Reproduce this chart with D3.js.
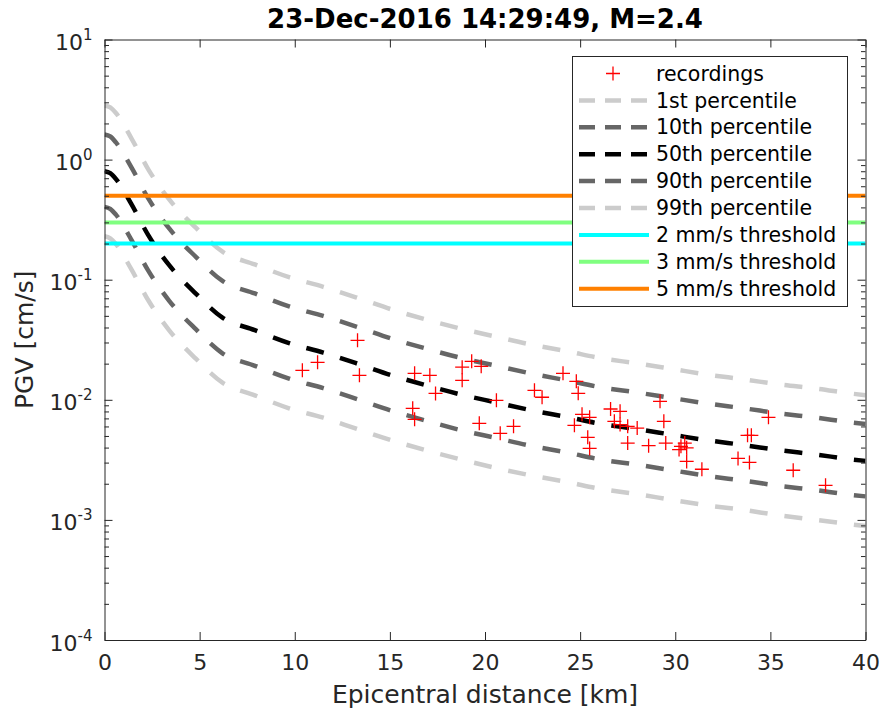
<!DOCTYPE html>
<html>
<head>
<meta charset="utf-8">
<script src="https://cdn.jsdelivr.net/npm/d3@7"></script>
<style>
	body { margin: 0; background: #fff; }
	text { font-family: "DejaVu Sans", sans-serif; }
</style>
</head>
<body>
<div class="chart-container"></div>
<script>
const w = 882;
const h = 708;
const margin = { top: 39.5, bottom: 68, left: 104.5, right: 16.5 };

const width = w - margin.left - margin.right;
const height = h - margin.top - margin.bottom;

const curveDist = [0, 0.3, 0.6, 1.4, 2.3, 3.4, 4.8, 6.2, 7.9, 9.7, 11.5, 13.3, 15.1, 16.9, 18.7, 20.6, 22.4, 24.3, 26.1, 28.0, 29.9, 31.7, 33.6, 35.5, 37.4, 39.2, 40];
const p01 = [2.82, 2.72, 2.44, 1.52, 0.83, 0.466, 0.271, 0.171, 0.134, 0.105, 0.0872, 0.0706, 0.0565, 0.0466, 0.0392, 0.0335, 0.0289, 0.0254, 0.0222, 0.0201, 0.018, 0.0162, 0.0148, 0.0134, 0.0124, 0.0113, 0.0109];
const p10 = [1.62, 1.56, 1.39, 0.87, 0.475, 0.267, 0.155, 0.0978, 0.0768, 0.06, 0.0499, 0.0404, 0.0323, 0.0267, 0.0224, 0.0192, 0.0166, 0.0145, 0.0127, 0.0115, 0.0103, 0.0093, 0.0085, 0.0077, 0.0071, 0.0065, 0.0063];
const p50 = [0.80, 0.77, 0.69, 0.43, 0.235, 0.132, 0.0767, 0.0484, 0.038, 0.0297, 0.0247, 0.020, 0.016, 0.0132, 0.0111, 0.0095, 0.0082, 0.0072, 0.0063, 0.0057, 0.0051, 0.0046, 0.0042, 0.0038, 0.0035, 0.0032, 0.0031];
const p90 = [0.404, 0.389, 0.348, 0.217, 0.119, 0.0667, 0.0387, 0.0244, 0.0192, 0.015, 0.0125, 0.0101, 0.0081, 0.0067, 0.0056, 0.0048, 0.00414, 0.00364, 0.00318, 0.00288, 0.00258, 0.00232, 0.00212, 0.00192, 0.00177, 0.00162, 0.00157];
const p99 = [0.23, 0.221, 0.198, 0.123, 0.0674, 0.0379, 0.022, 0.0139, 0.0109, 0.0085, 0.0071, 0.0057, 0.0046, 0.0038, 0.0032, 0.0027, 0.00235, 0.00207, 0.00181, 0.00164, 0.00146, 0.00132, 0.00121, 0.00109, 0.001, 0.00092, 0.00089];

// recordings: epicentral distance [km] and PGV [cm/s]
const recDist = [10.4, 11.2, 13.3, 13.4, 16.3, 17.1, 17.4, 16.2, 16.3, 18.8, 19.3, 19.8, 18.8, 20.6, 19.7, 20.8, 21.5, 22.6, 23.0, 24.1, 24.8, 24.9, 25.1, 24.7, 25.5, 25.4, 25.5, 26.6, 27.1, 26.8, 27.1, 27.5, 28.0, 27.5, 28.6, 29.2, 29.4, 29.5, 30.3, 30.5, 30.6, 30.2, 30.6, 31.4, 33.8, 34.0, 33.3, 33.9, 34.9, 36.2, 37.9];
const recPGV = [0.0176, 0.0205, 0.0313, 0.0160, 0.0166, 0.0160, 0.0113, 0.0085, 0.00688, 0.0187, 0.0209, 0.0190, 0.01454, 0.0099, 0.00637, 0.00526, 0.00601, 0.0120, 0.0105, 0.0166, 0.01426, 0.01133, 0.00757, 0.00613, 0.00715, 0.00487, 0.00394, 0.00838, 0.00801, 0.00662, 0.00622, 0.00601, 0.00582, 0.00436, 0.00415, 0.00972, 0.00662, 0.00436, 0.0041, 0.00436, 0.00398, 0.00385, 0.00307, 0.00264, 0.00506, 0.00506, 0.00325, 0.00301, 0.00715, 0.00259, 0.00194];

const thresholds = [0.2, 0.3, 0.5];
const thresholdColors = ["#00ffff", "#80ff80", "#ff8000"];

const curveNames = ["1st percentile", "10th percentile", "50th percentile", "90th percentile", "99th percentile"];
const curveColors = ["#cccccc", "#666666", "#000000", "#666666", "#cccccc"];
const legendNames = ["recordings"].concat(curveNames, ["2 mm/s threshold", "3 mm/s threshold", "5 mm/s threshold"]);

const xTicks = [0, 5, 10, 15, 20, 25, 30, 35, 40];
const yDecades = [-4, -3, -2, -1, 0, 1];

const x = d3.scaleLinear().domain([0, 40]).range([margin.left, margin.left + width]);
const y = d3.scaleLog().domain([1e-4, 10]).range([margin.top + height, margin.top]);

const svg = d3.select(".chart-container")
				.append("svg")
				.attr("width", w)
				.attr("height", h);

svg.append("clipPath")
	.attr("id", "plot-clip")
	.append("rect")
	.attr("x", margin.left).attr("y", margin.top)
	.attr("width", width).attr("height", height);

const plot = svg.append("g").attr("clip-path", "url(#plot-clip)");

const line = d3.line()
				.x(function(d) { return x(d[0]); })
				.y(function(d) { return y(d[1]); })
				.curve(d3.curveMonotoneX);

// percentile curves
[p01, p10, p50, p90, p99].forEach(function(vals, i) {
	plot.append("path")
		.datum(curveDist.map(function(d, j) { return [d, vals[j]]; }))
		.attr("d", line)
		.attr("fill", "none")
		.attr("stroke", curveColors[i])
		.attr("stroke-width", 4.5)
		.attr("stroke-dasharray", "18,17");
});

// thresholds
plot.selectAll(".threshold")
	.data(thresholds)
	.enter()
		.append("line")
		.attr("class", "threshold")
		.attr("x1", x(0)).attr("x2", x(40))
		.attr("y1", function(d) { return y(d); })
		.attr("y2", function(d) { return y(d); })
		.attr("stroke", function(d, i) { return thresholdColors[i]; })
		.attr("stroke-width", 4);

// recordings
const cross = "M-7,0H7M0,-7V7";
plot.selectAll(".rec")
	.data(recDist)
	.enter()
		.append("path")
		.attr("class", "rec")
		.attr("transform", function(d, i) { return "translate(" + x(d) + "," + y(recPGV[i]) + ")"; })
		.attr("d", cross)
		.attr("stroke", "#ff0000")
		.attr("stroke-width", 1.3)
		.attr("fill", "none");

// axes (inward ticks, box on)
const yMinor = y.ticks();
const axisColor = "#262626";

svg.append("g")
	.attr("transform", "translate(0," + (margin.top + height) + ")")
	.call(d3.axisBottom(x).tickValues(xTicks).tickSizeInner(-8).tickSizeOuter(0).tickPadding(14).tickFormat(d3.format("d")));
svg.append("g")
	.attr("transform", "translate(0," + margin.top + ")")
	.call(d3.axisTop(x).tickValues(xTicks).tickSizeInner(-8).tickSizeOuter(0).tickFormat(""));
svg.append("g")
	.attr("class", "y-left")
	.attr("transform", "translate(" + margin.left + ",0)")
	.call(d3.axisLeft(y).tickValues(yMinor).tickSizeInner(-8).tickSizeOuter(0).tickFormat(""));
svg.append("g")
	.attr("class", "y-right")
	.attr("transform", "translate(" + (margin.left + width) + ",0)")
	.call(d3.axisRight(y).tickValues(yMinor).tickSizeInner(-8).tickSizeOuter(0).tickFormat(""));

// shorter minor ticks
svg.selectAll(".y-left .tick line, .y-right .tick line")
	.attr("x2", function(d) {
		const major = Math.abs(Math.log10(d) - Math.round(Math.log10(d))) < 1e-6;
		const sign = d3.select(this.parentNode.parentNode).classed("y-left") ? 1 : -1;
		return sign * (major ? 8 : 4.5);
	});

svg.selectAll(".domain, .tick line").attr("stroke", axisColor).attr("stroke-width", 1);
svg.selectAll(".tick text")
	.attr("font-family", "DejaVu Sans")
	.attr("font-size", 22)
	.style("fill", axisColor);

// y tick labels 10^n
const yLabels = svg.append("g").selectAll("text")
	.data(yDecades)
	.enter()
		.append("text")
		.attr("x", margin.left - 12)
		.attr("y", function(d) { return y(Math.pow(10, d)) + 10.5; })
		.attr("text-anchor", "end")
		.attr("font-size", 22)
		.style("fill", axisColor);
yLabels.append("tspan").text("10");
yLabels.append("tspan")
	.attr("font-size", 15)
	.attr("dy", -10)
	.text(function(d) { return d; });

// titles
svg.append("text")
	.attr("x", margin.left + width / 2)
	.attr("y", 28)
	.attr("text-anchor", "middle")
	.attr("font-weight", "bold")
	.attr("font-size", 26)
	.style("fill", "#000")
	.text("23-Dec-2016 14:29:49, M=2.4");

svg.append("text")
	.attr("x", margin.left + width / 2)
	.attr("y", 703)
	.attr("text-anchor", "middle")
	.attr("font-size", 25)
	.style("fill", axisColor)
	.text("Epicentral distance [km]");

svg.append("text")
	.attr("transform", "translate(33," + (margin.top + height / 2) + ") rotate(-90)")
	.attr("text-anchor", "middle")
	.attr("font-size", 25)
	.style("fill", axisColor)
	.text("PGV [cm/s]");

// legend
const legend = svg.append("g").attr("class", "legend");
legend.append("rect")
	.attr("x", 572.5).attr("y", 56.5)
	.attr("width", 275).attr("height", 250)
	.attr("fill", "#fff")
	.attr("stroke", axisColor)
	.attr("stroke-width", 1);

const rowY = function(i) { return 73.5 + i * 26.9; };
const entries = legend.selectAll(".entry")
	.data(legendNames)
	.enter()
		.append("g")
		.attr("class", "entry")
		.attr("transform", function(d, i) { return "translate(0," + rowY(i) + ")"; });

entries.append("text")
	.attr("x", 656)
	.attr("dy", "0.35em")
	.attr("font-size", 20.5)
	.style("fill", "#000")
	.text(function(d) { return d; });

entries.filter(function(d, i) { return i === 0; })
	.append("path")
	.attr("transform", "translate(613,0)")
	.attr("d", cross)
	.attr("stroke", "#ff0000")
	.attr("stroke-width", 1.3);

entries.filter(function(d, i) { return i >= 1 && i <= 5; })
	.append("line")
	.attr("x1", 579).attr("x2", 649)
	.attr("stroke", function(d, i) { return curveColors[i]; })
	.attr("stroke-width", 4.5)
	.attr("stroke-dasharray", "16,10");

entries.filter(function(d, i) { return i >= 6; })
	.append("line")
	.attr("x1", 579).attr("x2", 649)
	.attr("stroke", function(d, i) { return thresholdColors[i]; })
	.attr("stroke-width", 4);
</script>
</body>
</html>
